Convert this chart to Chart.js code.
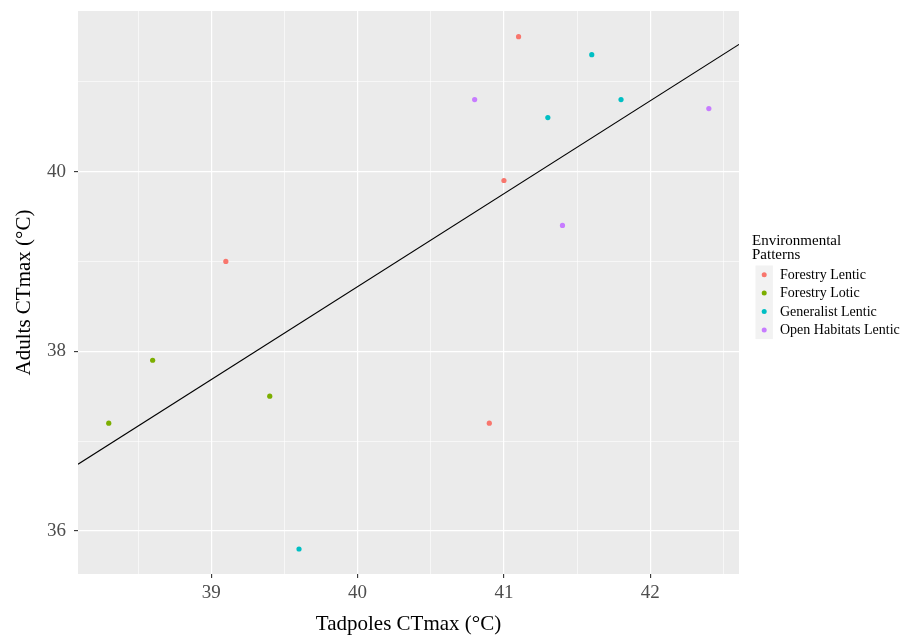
<!DOCTYPE html>
<html><head><meta charset="utf-8">
<script src="https://cdn.jsdelivr.net/npm/chart.js@4.4.0/dist/chart.umd.min.js"></script>
<style>html,body{margin:0;padding:0;background:#fff;} #wrap{width:912px;height:637px;}</style>
</head><body>
<div id="wrap"><canvas id="c" width="912" height="637"></canvas></div>
<script>
// ---- data ----
const seriesNames = ['Forestry Lentic', 'Forestry Lotic', 'Generalist Lentic', 'Open Habitats Lentic'];
const seriesColors = ['#F8766D', '#7CAE00', '#00BFC4', '#C77CFF'];
const forestryLenticX = [41.1, 41.0, 39.1, 40.9];
const forestryLenticY = [41.5, 39.9, 39.0, 37.2];
const forestryLoticX = [38.3, 38.6, 39.4];
const forestryLoticY = [37.2, 37.9, 37.5];
const generalistLenticX = [41.6, 41.3, 41.8, 39.6];
const generalistLenticY = [41.3, 40.6, 40.8, 35.8];
const openHabitatsX = [40.8, 41.4, 42.4];
const openHabitatsY = [40.8, 39.4, 40.7];
const fitLineX = [38.09, 42.606];
const fitLineY = [36.744, 41.415];
const xTicks = [39, 40, 41, 42];
const yTicks = [36, 38, 40];
const xRange = [38.09, 42.606];
const yRange = [35.522, 41.786];
const xTitle = 'Tadpoles CTmax (°C)';
const yTitle = 'Adults CTmax (°C)';
const legendTitle = ['Environmental', 'Patterns'];

const seriesX = [forestryLenticX, forestryLoticX, generalistLenticX, openHabitatsX];
const seriesY = [forestryLenticY, forestryLoticY, generalistLenticY, openHabitatsY];

const FONT = '"Liberation Serif", "Times New Roman", serif';

function withMinor(major, lo, hi) {
  const step = major[1] - major[0];
  const set = new Set();
  major.forEach(v => { set.add(v); set.add(v - step / 2); set.add(v + step / 2); });
  return [...set].filter(v => v >= lo && v <= hi).sort((a, b) => a - b);
}
const isMajor = (list, v) => list.some(m => Math.abs(m - v) < 1e-9);

const datasets = seriesNames.map((name, i) => ({
  type: 'scatter',
  label: name,
  data: seriesX[i].map((x, j) => ({ x: x, y: seriesY[i][j] })),
  backgroundColor: seriesColors[i],
  borderWidth: 0,
  pointRadius: 2.6,
  pointHoverRadius: 2.6
}));
datasets.push({
  type: 'line',
  label: 'fit',
  data: fitLineX.map((x, j) => ({ x: x, y: fitLineY[j] })),
  borderColor: '#000000',
  borderWidth: 1.1,
  pointRadius: 0,
  fill: false,
  tension: 0
});

const panelBg = {
  id: 'panelBg',
  beforeDraw(chart) {
    const a = chart.chartArea, ctx = chart.ctx;
    ctx.save();
    ctx.fillStyle = '#EBEBEB';
    ctx.fillRect(a.left, a.top, a.right - a.left, a.bottom - a.top);
    ctx.restore();
  }
};

const ggLegend = {
  id: 'ggLegend',
  afterDraw(chart) {
    const ctx = chart.ctx;
    ctx.save();
    ctx.textAlign = 'left';
    ctx.textBaseline = 'middle';
    ctx.fillStyle = '#000';
    ctx.font = '15px ' + FONT;
    legendTitle.forEach((t, i) => ctx.fillText(t, 752, 241 + i * 14));
    const ds = chart.data.datasets.filter(d => d.type === 'scatter');
    const keyH = 18.4, top = 265.5, keyX = 755.5, keyW = 17.4;
    ctx.fillStyle = '#F2F2F2';
    ctx.fillRect(keyX, top, keyW, keyH * ds.length);
    ds.forEach((d, i) => {
      const cy = top + keyH * (i + 0.5);
      ctx.beginPath();
      ctx.arc(keyX + keyW / 2, cy, 2.5, 0, Math.PI * 2);
      ctx.fillStyle = d.backgroundColor;
      ctx.fill();
      ctx.fillStyle = '#000';
      ctx.font = '14px ' + FONT;
      ctx.fillText(d.label, 780, cy + 0.5);
    });
    ctx.restore();
  }
};

new Chart(document.getElementById('c'), {
  data: { datasets: datasets },
  options: {
    responsive: false,
    animation: false,
    events: [],
    layout: { padding: { top: 11, right: 173, bottom: 0, left: 0 } },
    plugins: { legend: { display: false }, tooltip: { enabled: false } },
    scales: {
      x: {
        type: 'linear',
        min: xRange[0], max: xRange[1],
        afterBuildTicks: s => { s.ticks = withMinor(xTicks, xRange[0], xRange[1]).map(v => ({ value: v })); },
        afterFit: s => { s.height = 63; s.paddingLeft = 0; s.paddingRight = 0; },
        border: { display: false },
        grid: {
          color: '#FFFFFF',
          lineWidth: c => isMajor(xTicks, c.tick.value) ? 1.2 : 0.6,
          drawTicks: true,
          tickLength: 4,
          tickWidth: 1.1,
          tickColor: c => isMajor(xTicks, c.tick.value) ? '#333333' : 'rgba(0,0,0,0)'
        },
        ticks: {
          autoSkip: false, maxRotation: 0,
          padding: 4,
          color: '#4D4D4D',
          font: { family: FONT, size: 19 },
          callback: v => isMajor(xTicks, v) ? String(v) : ''
        },
        title: { display: true, text: xTitle, color: '#000', font: { family: FONT, size: 21 }, padding: { top: 0, bottom: 0 } }
      },
      y: {
        type: 'linear',
        min: yRange[0], max: yRange[1],
        afterBuildTicks: s => { s.ticks = withMinor(yTicks, yRange[0], yRange[1]).map(v => ({ value: v })); },
        afterFit: s => { s.width = 78; s.paddingTop = 0; s.paddingBottom = 0; },
        border: { display: false },
        grid: {
          color: '#FFFFFF',
          lineWidth: c => isMajor(yTicks, c.tick.value) ? 1.2 : 0.6,
          drawTicks: true,
          tickLength: 4,
          tickWidth: 1.1,
          tickColor: c => isMajor(yTicks, c.tick.value) ? '#333333' : 'rgba(0,0,0,0)'
        },
        ticks: {
          autoSkip: false,
          padding: 8,
          color: '#4D4D4D',
          font: { family: FONT, size: 19 },
          callback: v => isMajor(yTicks, v) ? String(v) : ''
        },
        title: { display: true, text: yTitle, color: '#000', font: { family: FONT, size: 21 }, padding: { top: 12, bottom: 0 } }
      }
    }
  },
  plugins: [panelBg, ggLegend]
});
</script>
</body></html>
